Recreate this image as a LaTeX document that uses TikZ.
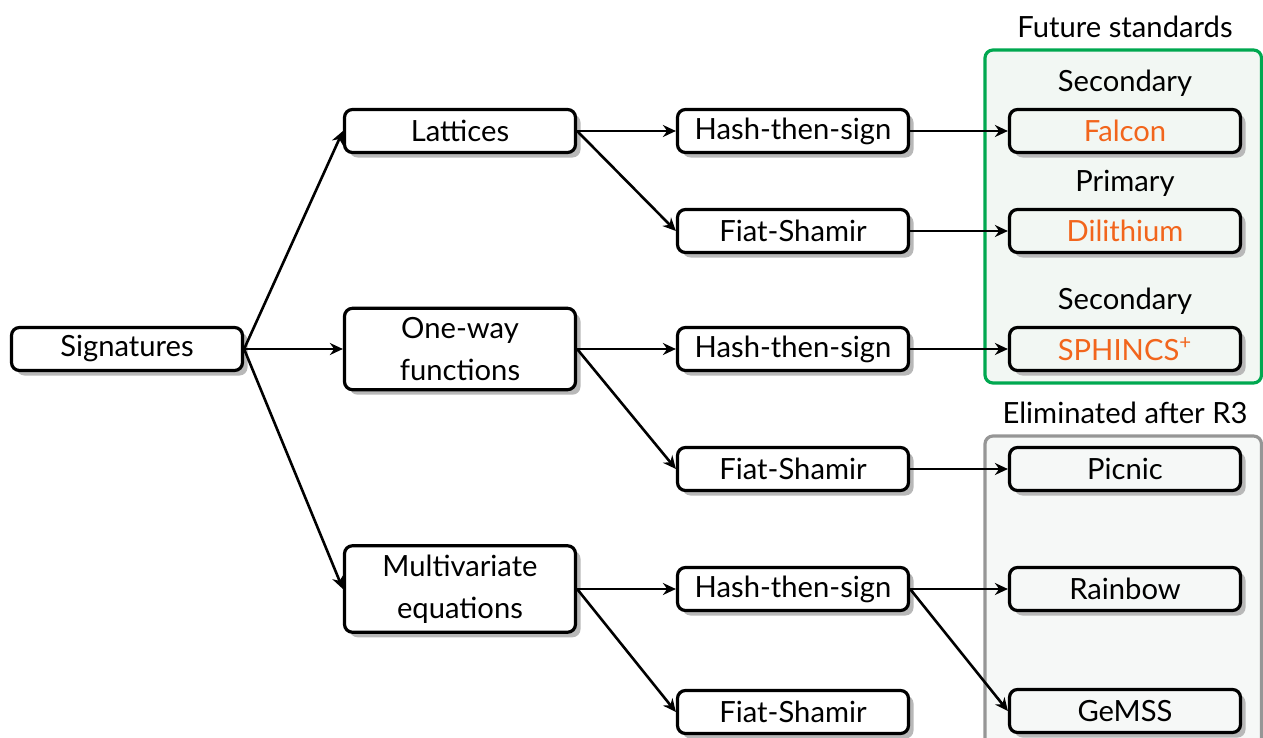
\documentclass[tikz,border=0pt]{standalone}
\usepackage{fontspec}
\setmainfont{Lato}
\usetikzlibrary{arrows.meta,shadows}
\definecolor{pqorange}{RGB}{242,101,28}
\definecolor{pqgreen}{RGB}{0,168,80}
\definecolor{pqgreenfill}{RGB}{242,247,243}
\definecolor{pqgray}{RGB}{150,150,150}
\definecolor{pqgrayfill}{RGB}{246,248,247}
\tikzset{
  box/.style={draw, line width=1.6pt, rounded corners=4pt, minimum width=115.5pt,
    minimum height=21.5pt, fill=white, align=center, inner sep=2pt,
    drop shadow={shadow xshift=2.5pt, shadow yshift=-2.5pt, fill=black!28, opacity=1}},
  tall/.style={inner ysep=4.5pt},
  gbox/.style={box, fill=pqgreenfill},
  ebox/.style={box, fill=pqgrayfill},
  arr/.style={-{Stealth[length=6.5pt,width=6pt]}, line width=1.3pt},
  lbl/.style={inner sep=0pt},
  std/.style={text=pqorange}
}
\begin{document}
\begin{tikzpicture}[x=0.5pt,y=-0.5pt,font=\fontsize{14.6}{21}\selectfont]
\useasboundingbox (0,0) rectangle (1263,738);
\begin{scope}
\clip (0,0) rectangle (1263,738);
\draw[pqgreen, fill=pqgreenfill, line width=1.6pt, rounded corners=4pt] (985,50) rectangle (1261.5,383);
\draw[pqgray, fill=pqgrayfill, line width=1.6pt, rounded corners=4pt] (985,436) rectangle (1261.5,760);
\end{scope}
\node[lbl] (futl) at (1125,27) {Future standards};
\node[lbl] (elim) at (1125,413) {Eliminated after R3};
\node[lbl] (sec1) at (1125,83) {Secondary};
\node[lbl] (prim) at (1125,183) {Primary};
\node[lbl] (sec2) at (1125,301) {Secondary};

\node[box] (sig) at (127,349) {Signatures};
\node[box] (lat) at (460,131) {Lattices};
\node[box,tall] (owf) at (460,349) {One-way\\functions};
\node[box,tall] (mv) at (460,589) {Multivariate\\equations};

\node[box] (h1) at (793,131) {Hash-then-sign};
\node[box] (f1) at (793,231) {Fiat-Shamir};
\node[box] (h2) at (793,349) {Hash-then-sign};
\node[box] (f2) at (793,469) {Fiat-Shamir};
\node[box] (h3) at (793,589) {Hash-then-sign};
\node[box] (f3) at (793,712) {Fiat-Shamir};

\node[gbox,std] (falcon) at (1125,131) {Falcon};
\node[gbox,std] (dil) at (1125,231) {Dilithium};
\node[gbox,std] (sph) at (1125,349) {SPHINCS\textsuperscript{+}};
\node[ebox] (pic) at (1125,469) {Picnic};
\node[ebox] (rain) at (1125,589) {Rainbow};
\node[ebox] (gem) at (1125,711) {GeMSS};

\draw[arr] (sig.east) -- (lat.west);
\draw[arr] (sig.east) -- (owf.west);
\draw[arr] (sig.east) -- (mv.west);
\draw[arr] (lat.east) -- (h1.west);
\draw[arr] (lat.east) -- (f1.west);
\draw[arr] (owf.east) -- (h2.west);
\draw[arr] (owf.east) -- (f2.west);
\draw[arr] (mv.east) -- (h3.west);
\draw[arr] (mv.east) -- (f3.west);
\draw[arr] (h1.east) -- (falcon.west);
\draw[arr] (f1.east) -- (dil.west);
\draw[arr] (h2.east) -- (sph.west);
\draw[arr] (f2.east) -- (pic.west);
\draw[arr] (h3.east) -- (rain.west);
\draw[arr] (h3.east) -- (gem.west);
\end{tikzpicture}
\end{document}
